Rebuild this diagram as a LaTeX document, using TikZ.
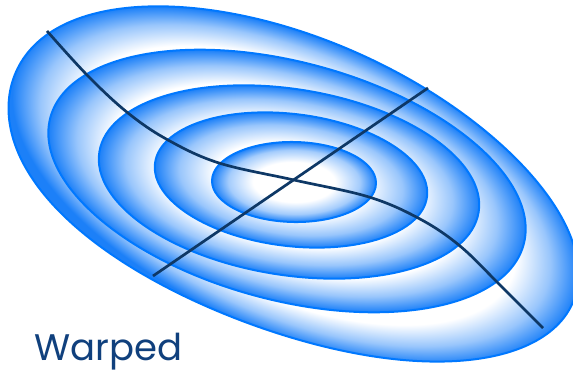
\documentclass[tikz,border=0pt]{standalone}
\usepackage{fontspec}
\newfontfamily\labelfont{Poppins}
\definecolor{ringblue}{RGB}{28,128,248}
\definecolor{edgeblue}{RGB}{0,120,255}
\definecolor{navyline}{RGB}{14,56,102}
\definecolor{textblue}{RGB}{16,64,125}
\pgfdeclareradialshading{shadeInner}{\pgfpoint{0bp}{0bp}}{color(0bp)=(white); color(12.5bp)=(white); color(20bp)=(ringblue!40!white); color(25bp)=(ringblue); color(50bp)=(ringblue)}
\pgfdeclareradialshading{shadeTwo}{\pgfpoint{0bp}{0bp}}{color(0bp)=(white); color(14bp)=(white); color(20.5bp)=(ringblue!45!white); color(25bp)=(ringblue); color(50bp)=(ringblue)}
\pgfdeclareradialshading{shadeThree}{\pgfpoint{0bp}{0bp}}{color(0bp)=(white); color(17bp)=(white); color(21.5bp)=(ringblue!45!white); color(25bp)=(ringblue); color(50bp)=(ringblue)}
\pgfdeclareradialshading{shadeFour}{\pgfpoint{0bp}{0bp}}{color(0bp)=(white); color(18.5bp)=(white); color(22bp)=(ringblue!45!white); color(25bp)=(ringblue); color(50bp)=(ringblue)}
\pgfdeclareradialshading{shadeOuter}{\pgfpoint{0bp}{0bp}}{color(0bp)=(white); color(19.5bp)=(white); color(22.5bp)=(ringblue!45!white); color(25bp)=(ringblue); color(50bp)=(ringblue)}
\tikzset{
  declare function={warpk(\t)=1+0.075*(0.5+0.5*cos(\t-130))^10-0.02*(0.5+0.5*cos(\t-305))^8;},
  ring/.style={shade, draw=edgeblue, line width=2pt},
  axisline/.style={draw=navyline, line width=2.7pt},
  caption/.style={font=\labelfont\fontsize{37}{37}\selectfont, text=textblue, inner sep=0pt, anchor=base west}
}
\begin{document}
\begin{tikzpicture}[x=1pt,y=-1pt]
\useasboundingbox[fill=white] (0,0) rectangle (573,372);
\begin{scope}[transform canvas={shift={(291,183)},rotate=-23}]
  \path[ring, shading=shadeOuter] plot[domain=0:357, samples=120, smooth]
    ({7+300*cos(\x)*warpk(\x)}, {-2+145*sin(\x)*warpk(\x)}) -- cycle;
\end{scope}
\begin{scope}[transform canvas={shift={(287,181)},rotate=-15}]
  \path[ring, shading=shadeFour] (0,0) ellipse [x radius=245, y radius=119];
\end{scope}
\begin{scope}[transform canvas={shift={(289,182)},rotate=-9}]
  \path[ring, shading=shadeThree] (0,0) ellipse [x radius=192, y radius=93];
\end{scope}
\begin{scope}[transform canvas={shift={(291,180)},rotate=-7}]
  \path[ring, shading=shadeTwo] (0,0) ellipse [x radius=137, y radius=66];
\end{scope}
\begin{scope}[transform canvas={shift={(294,182)},rotate=-1}]
  \path[ring, shading=shadeInner] (0,0) ellipse [x radius=82, y radius=40];
\end{scope}
\coordinate (sA) at (47,31);
\coordinate (sB) at (88,76);
\coordinate (sC) at (128,113);
\coordinate (sD) at (168,140);
\coordinate (sE) at (219,163);
\coordinate (ctr) at (294,180);
\coordinate (sF) at (369,197);
\coordinate (sG) at (420,219);
\coordinate (sH) at (460,246);
\coordinate (sI) at (500,285);
\coordinate (sJ) at (543,328);
\coordinate (lA) at (153,276);
\coordinate (lB) at (428,88);
\draw[axisline] plot[smooth, tension=0.6] coordinates {(sA) (sB) (sC) (sD) (sE) (ctr) (sF) (sG) (sH) (sI) (sJ)};
\draw[axisline] (lA) -- (lB);
\node[caption] (lbl) at (34,360) {Warped};
\end{tikzpicture}
\end{document}
